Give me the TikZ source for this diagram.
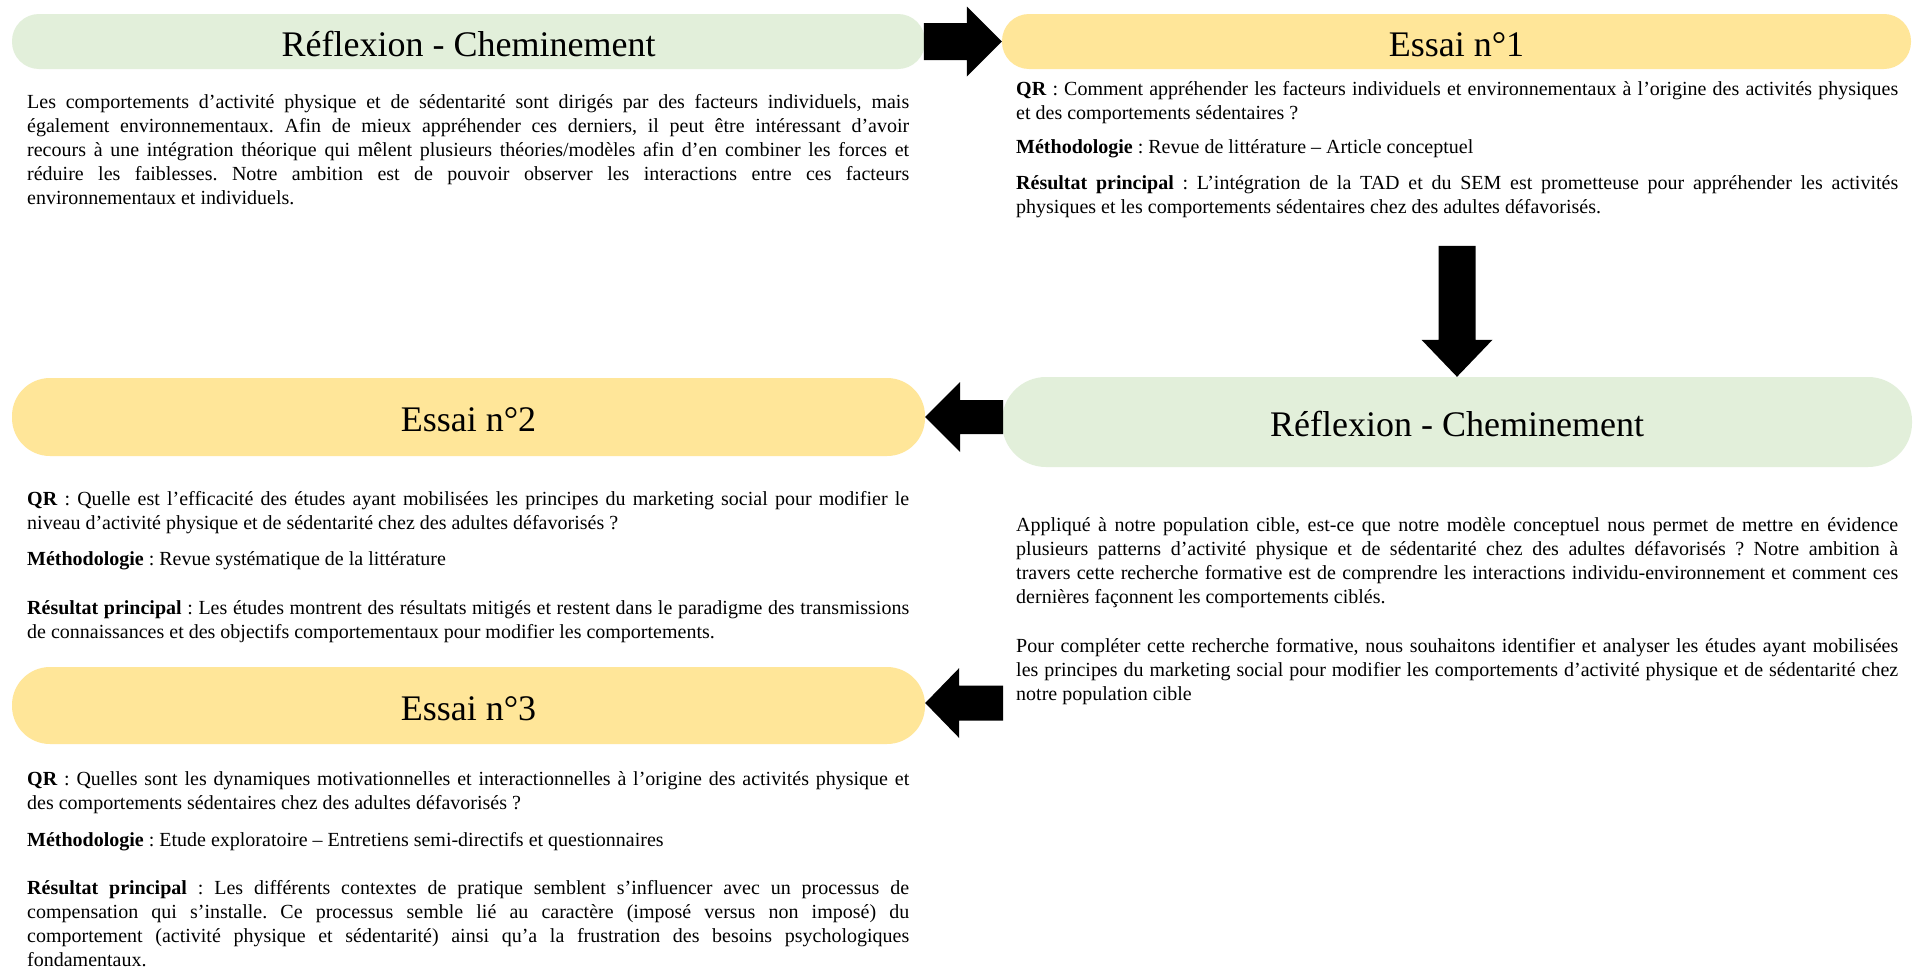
\documentclass[tikz,border=0pt]{standalone}
\usepackage{fontspec}
\setmainfont{Liberation Serif}
\usetikzlibrary{calc}
\frenchspacing
\definecolor{boxgreen}{HTML}{E2EFDA}
\definecolor{boxyellow}{HTML}{FFE699}
\newcommand\jl[1]{\makebox[882pt][s]{#1}}
\tikzset{
  titlebox/.style={draw=none, inner sep=0pt, text height=29pt, text depth=0pt,
    font=\fontsize{36}{40}\selectfont},
  greenbox/.style={titlebox, fill=boxgreen},
  yellowbox/.style={titlebox, fill=boxyellow},
  body/.style={anchor=base west, inner sep=0pt, font=\fontsize{20}{24}\selectfont\frenchspacing},
  blockarrow/.style={fill=black, draw=none}
}
\begin{document}
\begin{tikzpicture}[x=1pt,y=-1pt]
\useasboundingbox (0,0) rectangle (1921,969);
\fill[white] (0,0) rectangle (1921,969);

% title boxes
\node[greenbox, minimum width=913pt, minimum height=55pt, rounded corners=27pt] (r1) at (468.5,41.5) {Réflexion - Cheminement};
\node[yellowbox, minimum width=909pt, minimum height=55pt, rounded corners=27pt] (e1) at (1456.5,41.5) {Essai n°1};
\node[yellowbox, minimum width=913pt, minimum height=78pt, rounded corners=38pt] (e2) at (468.5,417) {Essai n°2};
\node[greenbox, minimum width=910pt, minimum height=90pt, rounded corners=44pt] (r2) at (1457,422) {Réflexion - Cheminement};
\node[yellowbox, minimum width=913pt, minimum height=77pt, rounded corners=38pt] (e3) at (468.5,705.5) {Essai n°3};

% block arrows
\fill[blockarrow] (e1.west) -- ++(-35,-35) -- ++(0,16.5) -- ++(-43,0) -- ++(0,37) -- ++(43,0) -- ++(0,16.5) -- cycle;
\fill[blockarrow] (r2.north) -- ++(-35.5,-37) -- ++(17,0) -- ++(0,-94) -- ++(37,0) -- ++(0,94) -- ++(17,0) -- cycle;
\fill[blockarrow] (e2.east) -- ++(35,-35) -- ++(0,18) -- ++(43,0) -- ++(0,34) -- ++(-43,0) -- ++(0,18) -- cycle;
\fill[blockarrow] ($(e3.east)+(0,-2.5)$) -- ++(34,-35) -- ++(0,17.5) -- ++(44,0) -- ++(0,35) -- ++(-44,0) -- ++(0,17.5) -- cycle;

% text under first Réflexion
\node[body] (t1a) at (27,108) {\jl{Les comportements d’activité physique et de sédentarité sont dirigés par des facteurs individuels, mais}};
\node[body] (t1b) at (27,132.2) {\jl{également environnementaux. Afin de mieux appréhender ces derniers, il peut être intéressant d’avoir}};
\node[body] (t1c) at (27,156.4) {\jl{recours à une intégration théorique qui mêlent plusieurs théories/modèles afin d’en combiner les forces et}};
\node[body] (t1d) at (27,180.6) {\jl{réduire les faiblesses. Notre ambition est de pouvoir observer les interactions entre ces facteurs}};
\node[body] (t1e) at (27,204.8) {environnementaux et individuels.};

% Essai 1 text
\node[body] (q1a) at (1016,95) {\jl{\textbf{QR} : Comment appréhender les facteurs individuels et environnementaux à l’origine des activités physiques}};
\node[body] (q1b) at (1016,119) {et des comportements sédentaires ?};
\node[body] (m1) at (1016,153) {\textbf{Méthodologie} : Revue de littérature – Article conceptuel};
\node[body] (s1a) at (1016,189) {\jl{\textbf{Résultat principal} : L’intégration de la TAD et du SEM est prometteuse pour appréhender les activités}};
\node[body] (s1b) at (1016,213) {physiques et les comportements sédentaires chez des adultes défavorisés.};

% Essai 2 text
\node[body] (q2a) at (27,505) {\jl{\textbf{QR} : Quelle est l’efficacité des études ayant mobilisées les principes du marketing social pour modifier le}};
\node[body] (q2b) at (27,529) {niveau d’activité physique et de sédentarité chez des adultes défavorisés ?};
\node[body] (m2) at (27,565) {\textbf{Méthodologie} : Revue systématique de la littérature};
\node[body] (s2a) at (27,614) {\jl{\textbf{Résultat principal} : Les études montrent des résultats mitigés et restent dans le paradigme des transmissions}};
\node[body] (s2b) at (27,638) {de connaissances et des objectifs comportementaux pour modifier les comportements.};

% Essai 3 text
\node[body] (q3a) at (27,785) {\jl{\textbf{QR} : Quelles sont les dynamiques motivationnelles et interactionnelles à l’origine des activités physique et}};
\node[body] (q3b) at (27,809) {des comportements sédentaires chez des adultes défavorisés ?};
\node[body] (m3) at (27,846) {\textbf{Méthodologie} : Etude exploratoire – Entretiens semi-directifs et questionnaires};
\node[body] (s3a) at (27,894) {\jl{\textbf{Résultat principal} : Les différents contextes de pratique semblent s’influencer avec un processus de}};
\node[body] (s3b) at (27,918.3) {\jl{compensation qui s’installe. Ce processus semble lié au caractère (imposé versus non imposé) du}};
\node[body] (s3c) at (27,942.6) {\jl{comportement (activité physique et sédentarité) ainsi qu’a la frustration des besoins psychologiques}};
\node[body] (s3d) at (27,966.5) {fondamentaux.};

% second Réflexion text
\node[body] (p1a) at (1016,531) {\jl{Appliqué à notre population cible, est-ce que notre modèle conceptuel nous permet de mettre en évidence}};
\node[body] (p1b) at (1016,555) {\jl{plusieurs patterns d’activité physique et de sédentarité chez des adultes défavorisés ? Notre ambition à}};
\node[body] (p1c) at (1016,579) {\jl{travers cette recherche formative est de comprendre les interactions individu-environnement et comment ces}};
\node[body] (p1d) at (1016,603) {dernières façonnent les comportements ciblés.};
\node[body] (p2a) at (1016,652) {\jl{Pour compléter cette recherche formative, nous souhaitons identifier et analyser les études ayant mobilisées}};
\node[body] (p2b) at (1016,676) {\jl{les principes du marketing social pour modifier les comportements d’activité physique et de sédentarité chez}};
\node[body] (p2c) at (1016,700) {notre population cible};
\end{tikzpicture}
\end{document}
